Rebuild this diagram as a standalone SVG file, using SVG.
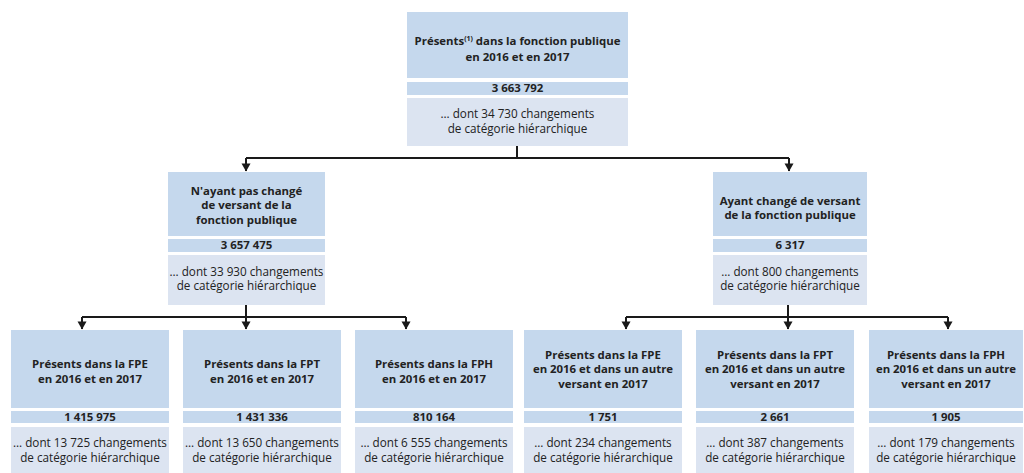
<svg xmlns="http://www.w3.org/2000/svg" width="1024" height="473" viewBox="0 0 1024 473">
<style>
.h{fill:#c5d8ed}
.d{fill:#dce4f1}
text{font-family:"Open Sans","Liberation Sans",sans-serif;font-size:11.7px;fill:#222;text-anchor:middle}
.b{font-weight:bold;font-size:11.4px}
.c{fill:none;stroke:#1a1a1a;stroke-width:2}
</style>
<defs>
<marker id="ad" markerUnits="userSpaceOnUse" markerWidth="10" markerHeight="10" refX="5" refY="9" orient="0" viewBox="0 0 10 10">
<path d="M0.5,1.5 L9.5,1.5 L5,9.5 Z" fill="#1a1a1a"/>
</marker>
</defs>
<g id="connectors">
<path class="c" d="M517,146 V158 M246,158 H789"/>
<path class="c" d="M246,158 V171" marker-end="url(#ad)"/>
<path class="c" d="M789,158 V171" marker-end="url(#ad)"/>
<path class="c" d="M246,305 V317 M82,317 H406 M788,305 V317 M626,317 H948"/>
<path class="c" d="M82,317 V329" marker-end="url(#ad)"/>
<path class="c" d="M246,317 V329" marker-end="url(#ad)"/>
<path class="c" d="M406,317 V329" marker-end="url(#ad)"/>
<path class="c" d="M626,317 V329" marker-end="url(#ad)"/>
<path class="c" d="M788,317 V329" marker-end="url(#ad)"/>
<path class="c" d="M948,317 V329" marker-end="url(#ad)"/>
</g>
<g id="top">
<rect class="h" x="407" y="12" width="221" height="66"/>
<rect class="h" x="407" y="82" width="221" height="13"/>
<rect class="d" x="407" y="98" width="221" height="48"/>
<text class="b" x="517.5" y="45">Présents<tspan font-size="7" dy="-4">(1)</tspan><tspan dy="4"> dans la fonction publique</tspan></text>
<text class="b" x="517.5" y="61">en 2016 et en 2017</text>
<text class="b" x="517.5" y="92">3 663 792</text>
<text x="517.5" y="118">… dont 34 730 changements</text>
<text x="517.5" y="133">de catégorie hiérarchique</text>
</g>
<g id="mid-left">
<rect class="h" x="168" y="172" width="157" height="64"/>
<rect class="h" x="168" y="239" width="157" height="13"/>
<rect class="d" x="168" y="255" width="157" height="50"/>
<text class="b" x="246.5" y="195">N'ayant pas changé</text>
<text class="b" x="246.5" y="209">de versant de la</text>
<text class="b" x="246.5" y="224">fonction publique</text>
<text class="b" x="246.5" y="249">3 657 475</text>
<text x="246.5" y="276">… dont 33 930 changements</text>
<text x="246.5" y="290">de catégorie hiérarchique</text>
</g>
<g id="mid-right">
<rect class="h" x="713" y="172" width="154" height="64"/>
<rect class="h" x="713" y="239" width="154" height="13"/>
<rect class="d" x="713" y="255" width="154" height="50"/>
<text class="b" x="790" y="205">Ayant changé de versant</text>
<text class="b" x="790" y="219">de la fonction publique</text>
<text class="b" x="790" y="249">6 317</text>
<text x="790" y="276">… dont 800 changements</text>
<text x="790" y="290">de catégorie hiérarchique</text>
</g>
<g id="fpe">
<rect class="h" x="11" y="330" width="158" height="78"/>
<rect class="h" x="11" y="411" width="158" height="12"/>
<rect class="d" x="11" y="427" width="158" height="46"/>
<text class="b" x="90" y="368">Présents dans la FPE</text>
<text class="b" x="90" y="383">en 2016 et en 2017</text>
<text class="b" x="90" y="421">1 415 975</text>
<text x="90" y="447">… dont 13 725 changements</text>
<text x="90" y="462">de catégorie hiérarchique</text>
</g>
<g id="fpt">
<rect class="h" x="183" y="330" width="158" height="78"/>
<rect class="h" x="183" y="411" width="158" height="12"/>
<rect class="d" x="183" y="427" width="158" height="46"/>
<text class="b" x="262" y="368">Présents dans la FPT</text>
<text class="b" x="262" y="383">en 2016 et en 2017</text>
<text class="b" x="262" y="421">1 431 336</text>
<text x="262" y="447">… dont 13 650 changements</text>
<text x="262" y="462">de catégorie hiérarchique</text>
</g>
<g id="fph">
<rect class="h" x="355" y="330" width="158" height="78"/>
<rect class="h" x="355" y="411" width="158" height="12"/>
<rect class="d" x="355" y="427" width="158" height="46"/>
<text class="b" x="434" y="368">Présents dans la FPH</text>
<text class="b" x="434" y="383">en 2016 et en 2017</text>
<text class="b" x="434" y="421">810 164</text>
<text x="434" y="447">… dont 6 555 changements</text>
<text x="434" y="462">de catégorie hiérarchique</text>
</g>
<g id="fpe-autre">
<rect class="h" x="524" y="330" width="158" height="78"/>
<rect class="h" x="524" y="411" width="158" height="12"/>
<rect class="d" x="524" y="427" width="158" height="46"/>
<text class="b" x="603" y="359">Présents dans la FPE</text>
<text class="b" x="603" y="373">en 2016 et dans un autre</text>
<text class="b" x="603" y="388">versant en 2017</text>
<text class="b" x="603" y="421">1 751</text>
<text x="603" y="447">… dont 234 changements</text>
<text x="603" y="462">de catégorie hiérarchique</text>
</g>
<g id="fpt-autre">
<rect class="h" x="696" y="330" width="158" height="78"/>
<rect class="h" x="696" y="411" width="158" height="12"/>
<rect class="d" x="696" y="427" width="158" height="46"/>
<text class="b" x="775" y="359">Présents dans la FPT</text>
<text class="b" x="775" y="373">en 2016 et dans un autre</text>
<text class="b" x="775" y="388">versant en 2017</text>
<text class="b" x="775" y="421">2 661</text>
<text x="775" y="447">… dont 387 changements</text>
<text x="775" y="462">de catégorie hiérarchique</text>
</g>
<g id="fph-autre">
<rect class="h" x="869" y="330" width="154" height="78"/>
<rect class="h" x="869" y="411" width="154" height="12"/>
<rect class="d" x="869" y="427" width="154" height="46"/>
<text class="b" x="946" y="359">Présents dans la FPH</text>
<text class="b" x="946" y="373">en 2016 et dans un autre</text>
<text class="b" x="946" y="388">versant en 2017</text>
<text class="b" x="946" y="421">1 905</text>
<text x="946" y="447">… dont 179 changements</text>
<text x="946" y="462">de catégorie hiérarchique</text>
</g>
</svg>
